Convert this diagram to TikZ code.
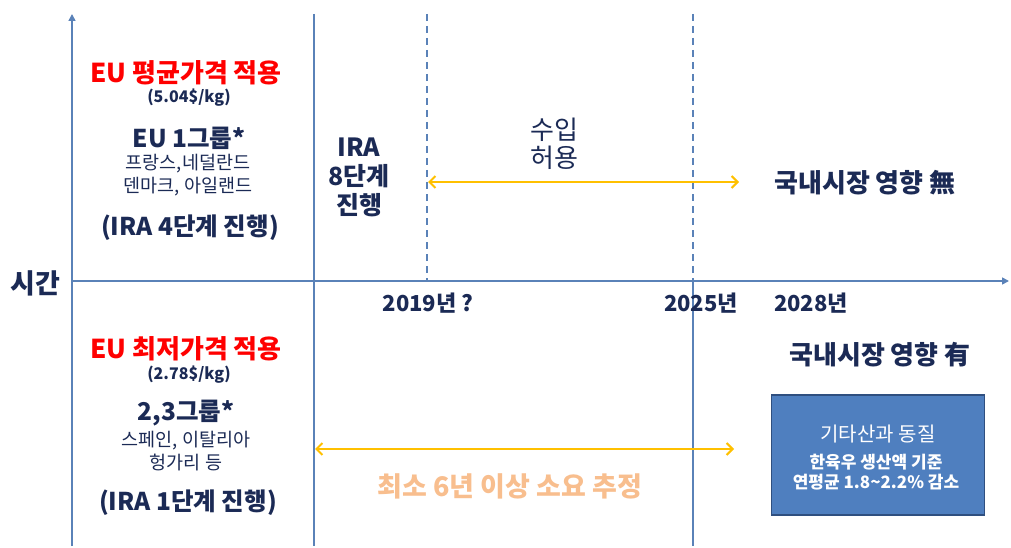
\documentclass[tikz,border=0pt]{standalone}
\usepackage{fontspec}
\setmainfont{Noto Sans CJK KR}
\usetikzlibrary{arrows.meta}
\definecolor{axisblue}{HTML}{5A82B8}
\definecolor{navy}{HTML}{1B2A55}
\definecolor{gold}{HTML}{FFC000}
\definecolor{peach}{HTML}{F8BE8E}
\definecolor{boxfill}{HTML}{4F7FBF}
\definecolor{boxline}{HTML}{2F4F7F}
\tikzset{
  axisline/.style={draw=axisblue, line width=1.6pt},
  axisarrow/.style={axisline, -{Triangle[width=7pt,length=7pt]}},
  dashline/.style={axisline, dash pattern=on 7pt off 5pt},
  span/.style={draw=gold, line width=2pt, {Straight Barb[width=12pt,length=6pt]}-{Straight Barb[width=12pt,length=6pt]}},
  txt/.style={text=navy, align=center, inner sep=0pt},
  big/.style={txt, font=\fontsize{24.5}{28}\selectfont\bfseries},
  redtitle/.style={txt, text=red, font=\fontsize{26}{30}\selectfont\bfseries},
  small/.style={txt, font=\fontsize{16}{18}\selectfont\bfseries},
  mid/.style={txt, font=\fontsize{18.5}{23}\selectfont},
  year/.style={txt, font=\fontsize{22}{24}\selectfont\bfseries},
}
\begin{document}
\begin{tikzpicture}[x=1pt,y=-1pt]
\useasboundingbox (0,0) rectangle (1011,548);
% axes
\coordinate (ybot) at (72,546);
\coordinate (ytop) at (72,14);
\coordinate (xleft) at (72,281);
\coordinate (xright) at (1009,281);
\draw[axisarrow] (ybot) -- (ytop);
\draw[axisarrow] (xleft) -- (xright);
% vertical lines
\coordinate (v1t) at (314,14);
\coordinate (v1b) at (314,546);
\draw[axisline] (v1t) -- (v1b);
\coordinate (v2t) at (427,14);
\coordinate (v2b) at (427,281);
\draw[dashline] (v2t) -- (v2b);
\coordinate (v3t) at (693,14);
\coordinate (v3m) at (693,281);
\coordinate (v3b) at (693,546);
\draw[dashline] (v3t) -- (v3m);
\draw[axisline] (v3m) -- (v3b);
% yellow spans
\coordinate (a1l) at (428,182);
\coordinate (a1r) at (739,182);
\draw[span] (a1l) -- (a1r);
\coordinate (a2l) at (315,449);
\coordinate (a2r) at (734,449);
\draw[span] (a2l) -- (a2r);
% axis label
\node[txt, font=\fontsize{27}{30}\selectfont\bfseries] (time) at (35,283) {시간};
% upper-left block
\node[redtitle] (t1) at (186,73) {EU 평균가격 적용};
\node[small] (p1) at (189,98) {(5.04\$/kg)};
\node[big] (g1) at (189,138) {EU 1그룹*};
\node[mid] (c1) at (188,175) {프랑스,네덜란드\\덴마크, 아일랜드};
\node[big] (i1) at (190,228) {(IRA 4단계 진행)};
% lower-left block
\node[redtitle] (t2) at (186,349) {EU 최저가격 적용};
\node[small] (p2) at (189,375) {(2.78\$/kg)};
\node[big] (g2) at (186,413) {2,3그룹*};
\node[mid] (c2) at (186,451) {스페인, 이탈리아\\헝가리 등};
\node[big] (i2) at (188,503) {(IRA 1단계 진행)};
% middle texts
\node[txt, font=\fontsize{25}{29}\selectfont\bfseries] (ira8) at (359,177) {IRA\\8단계\\진행};
\node[txt, font=\fontsize{26}{28}\selectfont] (imp) at (554,144) {수입\\허용};
\node[txt, font=\fontsize{26}{28}\selectfont\bfseries] (nomkt) at (865,183) {국내시장 영향 無};
% years
\node[year] (y2019) at (428,303) {2019년 ?};
\node[year] (y2025) at (701,303) {2025년};
\node[year] (y2028) at (811,303) {2028년};
% lower right
\node[txt, font=\fontsize{26}{28}\selectfont\bfseries] (yesmkt) at (880,355) {국내시장 영향 有};
\node[draw=boxline, line width=1.5pt, fill=boxfill, minimum width=213pt, minimum height=120pt, inner sep=0pt] (box) at (878,455) {};
\node[txt, text=white, font=\fontsize{20}{22}\selectfont] (b1) at (878,434) {기타산과 동질};
\node[txt, text=white, font=\fontsize{17}{19.5}\selectfont\bfseries] (b2) at (876,472) {한육우 생산액 기준\\연평균 1.8\textasciitilde2.2\% 감소};
\node[txt, text=peach, font=\fontsize{27}{30}\selectfont\bfseries] (six) at (510,486) {최소 6년 이상 소요 추정};
\end{tikzpicture}
\end{document}
